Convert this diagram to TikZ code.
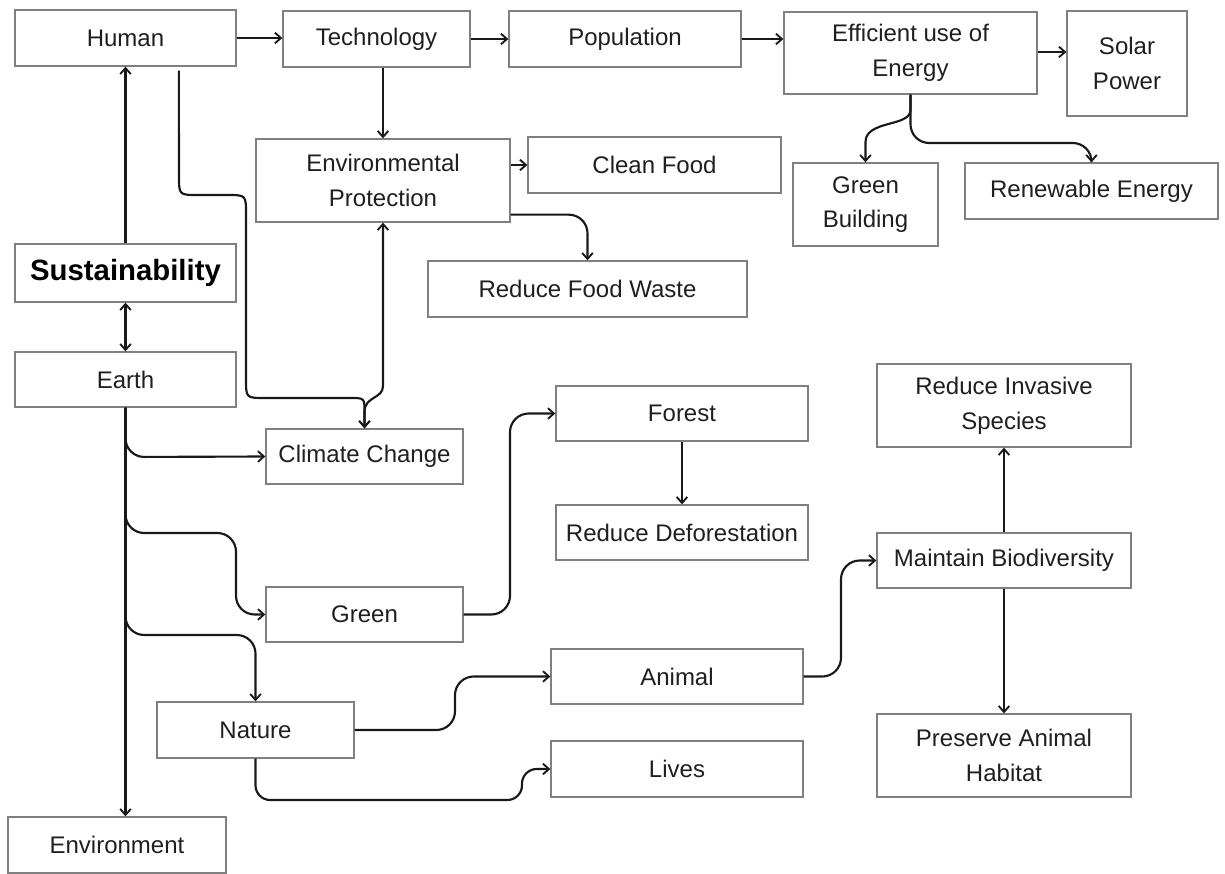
\documentclass[tikz,border=0pt]{standalone}
\usepackage{fontspec}
\setmainfont{Liberation Sans}
\usetikzlibrary{arrows.meta}

\tikzset{
  box/.style={draw=black!50, line width=1pt, inner sep=0pt, align=center,
    text=black!88, font=\fontsize{18}{26}\selectfont},
  size/.style 2 args={minimum width=#1*0.75pt, minimum height=#2*0.75pt},
  barb/.tip={Straight Barb[length=4.5pt,width=8pt,line width=1.4pt]},
  link/.style={line width=1.6pt, draw=black!90, rounded corners=14pt, -barb},
  bothlink/.style={line width=1.6pt, draw=black!90, rounded corners=14pt, barb-barb},
  curvelink/.style={line width=1.6pt, draw=black!90, -barb},
  curveboth/.style={line width=1.6pt, draw=black!90, barb-barb},
}

\begin{document}
\begin{tikzpicture}[x=0.75pt,y=-0.75pt]
\useasboundingbox (0,0) rectangle (1225,874);

% boxes: centre, then width and height
\node[box, size={221}{56}] (human)  at (125.5,38)   {Human};
\node[box, size={187}{56}] (tech)   at (376.5,39)   {Technology};
\node[box, size={232}{56}] (pop)    at (625,39)     {Population};
\node[box, size={253}{82}] (eff)    at (910.5,53)   {Efficient use of\\Energy};
\node[box, size={120}{105}](solar)  at (1127,63.5)  {Solar\\Power};
\node[box, size={145}{83}] (gb)     at (865.5,204.5){Green\\Building};
\node[box, size={253}{56}] (renew)  at (1091.5,191) {Renewable Energy};
\node[box, size={254}{83}] (envp)   at (383,180.5)  {Environmental\\Protection};
\node[box, size={253}{56}] (cf)     at (654.5,165)  {Clean Food};
\node[box, size={319}{56}] (rfw)    at (587.5,289)  {Reduce Food Waste};
\node[box, size={221}{58}, font=\fontsize{22}{26}\selectfont\bfseries, text=black]
                           (sust)   at (125.5,273)  {Sustainability};
\node[box, size={221}{55}] (earth)  at (125.5,379.5){Earth};
\node[box, size={197}{55}] (cc)     at (364.5,456.5){Climate Change};
\node[box, size={197}{55}] (green)  at (364.5,614.5){Green};
\node[box, size={252}{55}] (forest) at (682,413.5)  {Forest};
\node[box, size={252}{55}] (rdef)   at (682,532.5)  {Reduce Deforestation};
\node[box, size={197}{56}] (nature) at (255.5,730)  {Nature};
\node[box, size={252}{55}] (animal) at (677,676.5)  {Animal};
\node[box, size={252}{56}] (lives)  at (677,769)    {Lives};
\node[box, size={218}{56}] (env)    at (117,845)    {Environment};
\node[box, size={254}{83}] (ris)    at (1004,405.5) {Reduce Invasive\\Species};
\node[box, size={254}{55}] (mbio)   at (1004,560.5) {Maintain Biodiversity};
\node[box, size={254}{83}] (pah)    at (1004,755.5) {Preserve Animal\\Habitat};

% top row
\draw[link] (human.east) -- (human.east -| tech.west);
\draw[link] (tech.east) -- (pop.west);
\draw[link] (pop.east) -- (pop.east -| eff.west);
\draw[link] (eff.east |- 0,52) -- (solar.west |- 0,52);
\draw[curvelink] (eff.south) -- (910.5,110) .. controls (910.5,127) and (865.5,120) .. (865.5,142) -- (gb.north);
\draw[link] (eff.south) -- (910.5,143) -- (1091.5,143) -- (renew.north);

% technology and protection
\draw[link] (tech.south -| envp.north) -- (envp.north);
\draw[link] (cf.west -| envp.east) -- (cf.west);
\draw[link] ([yshift=6pt]envp.south east) -| (rfw.north);
\draw[curvelink] ([xshift=40pt,yshift=-3pt]human.south) -- (179,176)
   .. controls (179,195) .. (198,195) -- (227,195)
   .. controls (246,195) .. (246,214) -- (246,379)
   .. controls (246,398) .. (265,398) -- (350,398)
   .. controls (364.5,398) .. (364.5,412) -- (cc.north);
\draw[curveboth] (envp.south) -- (383,386) .. controls (383,399) and (364.5,396) .. (364.5,412) -- (cc.north);

% left trunk
\draw[link] (sust.north) -- (human.south);
\draw[bothlink] (earth.north) -- (sust.south);
\draw[link] (earth.south) -- (earth.south |- env.north);
\draw[link] (earth.south) -- (125.5,457) -- (cc.west);
\draw[link] (earth.south) -- (125.5,533) -- (236,533) -- (236,614.5) -- (green.west);
\draw[link] (earth.south) -- (125.5,635) -- (255.5,635) -- (nature.north);

% green and nature
\draw[link] (green.east) -- (510,614.5) -- (510,413.5) -- (forest.west);
\draw[link] (forest.south) -- (rdef.north);
\draw[link] (nature.east) -- (455,730) -- (455,676.5) -- (animal.west);
\draw[link, rounded corners=11pt] (nature.south) -- (255.5,800) -- (522,800) -- (522,769) -- (lives.west);

% biodiversity
\draw[link] (animal.east) -- (841,676.5) -- (841,560.5) -- (mbio.west);
\draw[link] (mbio.north) -- (ris.south);
\draw[link] (mbio.south) -- (pah.north);
\end{tikzpicture}
\end{document}
